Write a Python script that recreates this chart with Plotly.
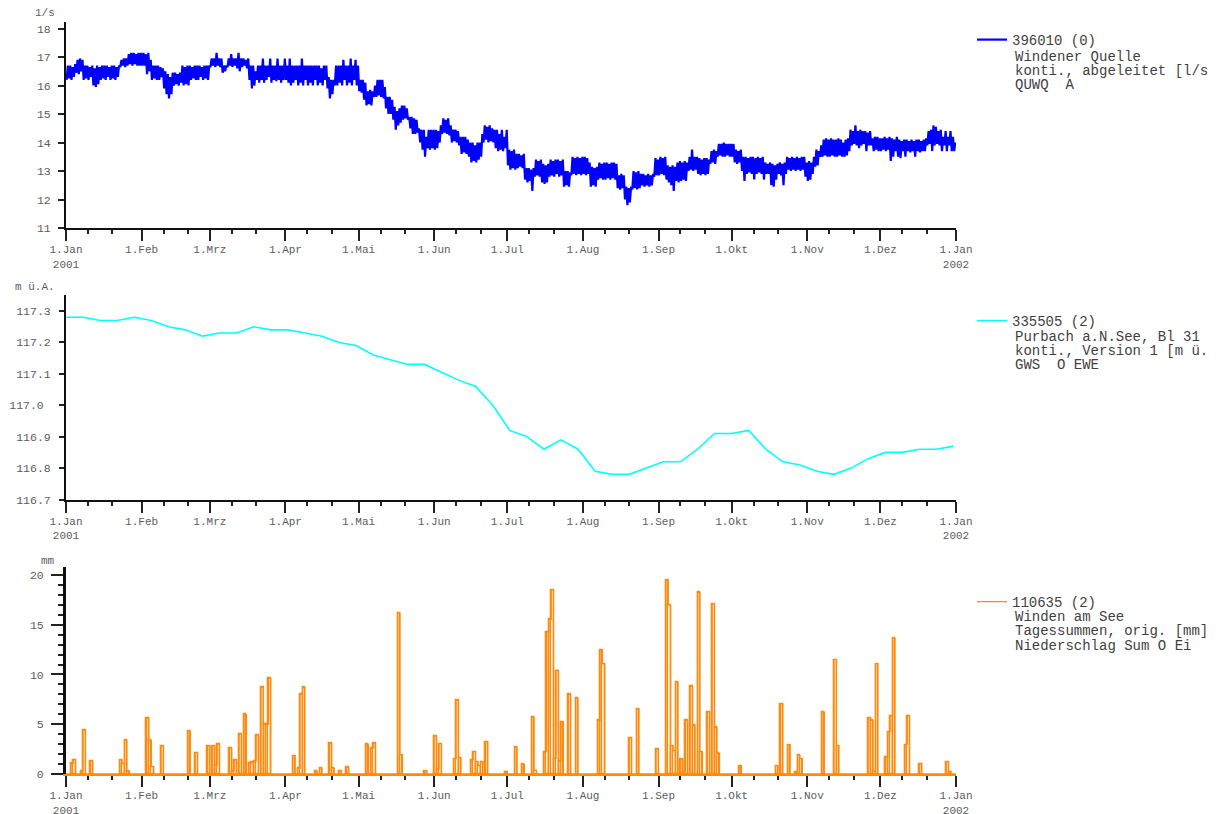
import numpy as np
import pandas as pd
import plotly.graph_objects as go

# ---------------- data: 396010 Windener Quelle (daily low / high, l/s) ----------------
flow_lo_jan = [16.2,16.25,16.2,16.3,16.45,16.4,16.5,16.2,16.25,16.2,16.3,16.0,15.95,16.05,16.2,16.25,16.2,16.3,16.2,16.25,16.2,16.3,16.65,16.7,16.65,16.7,16.75,16.7,16.75,16.7,16.7]
flow_hi_jan = [16.7,16.7,16.65,16.75,16.9,16.95,16.9,16.7,16.7,16.65,16.7,16.6,16.7,16.65,16.7,16.7,16.7,16.65,16.7,16.7,16.65,16.7,16.9,16.95,16.95,17.1,17.15,17.15,17.1,17.15,17.15]
flow_lo_feb = [16.7,16.7,16.4,16.5,16.2,16.25,16.2,16.2,16.3,15.9,15.7,15.55,15.7,16.0,16.05,16.0,16.1,16.0,16.05,16.0,16.2,16.25,16.2,16.2,16.3,16.2,16.25,16.2]
flow_hi_feb = [17.15,17.1,17.15,16.9,16.7,16.7,16.7,16.65,16.6,16.5,16.4,16.3,16.45,16.45,16.4,16.45,16.7,16.65,16.7,16.7,16.65,16.7,16.7,16.7,16.65,16.7,16.7,16.7]
flow_lo_mar = [16.65,16.7,16.65,16.7,16.65,16.45,16.5,16.65,16.7,16.65,16.7,16.6,16.5,16.65,16.7,16.6,16.2,15.9,16.0,16.2,16.1,16.2,16.1,16.2,16.3,16.1,16.2,16.15,16.2,16.1,16.2]
flow_hi_mar = [16.95,16.95,17.15,16.95,16.95,16.7,16.7,16.95,17.1,16.95,16.95,17.15,16.95,16.95,16.9,16.95,16.7,16.7,16.5,16.7,16.7,16.95,16.7,16.7,16.95,16.7,16.7,16.95,16.7,16.7,16.95]
flow_lo_apr = [16.2,16.1,16.0,16.1,16.2,16.0,16.1,16.0,16.2,16.0,16.1,16.0,16.2,16.0,16.1,16.0,16.2,15.9,15.55,15.7,16.0,16.0,16.1,16.0,16.2,16.0,16.1,16.0,16.2,16.0]
flow_hi_apr = [16.7,16.95,16.7,16.7,16.7,16.7,16.95,16.7,16.7,16.7,16.7,16.7,16.7,16.7,16.6,16.7,16.7,16.3,16.2,16.2,16.7,16.7,16.7,16.9,16.7,16.7,16.95,16.7,16.9,16.7]
flow_lo_may = [15.8,15.75,15.5,15.3,15.35,15.3,15.6,15.6,15.65,15.6,15.55,15.2,15.0,15.0,14.8,14.45,14.6,14.7,14.8,14.85,14.8,14.5,14.3,14.3,14.35,14.0,13.75,13.5,13.8,13.75,13.8]
flow_hi_may = [16.2,16.2,16.1,15.8,15.85,15.8,16.0,16.2,16.2,16.2,15.95,15.6,15.6,15.5,15.25,15.1,15.2,15.3,15.3,15.2,14.9,14.9,14.85,14.8,14.5,14.45,14.45,14.2,14.45,14.45,14.45]
flow_lo_jun = [13.75,13.8,14.0,14.3,14.35,14.3,14.25,14.0,14.05,14.0,13.9,13.6,13.65,13.6,13.5,13.3,13.35,13.3,13.4,13.5,14.0,14.1,14.0,14.05,14.0,13.8,13.7,13.75,13.7,13.8]
flow_hi_jun = [14.45,14.4,14.6,14.85,14.8,14.85,14.6,14.45,14.45,14.4,14.2,14.2,14.2,14.1,14.0,14.0,13.9,14.0,14.0,14.3,14.6,14.55,14.6,14.5,14.45,14.45,14.3,14.45,14.2,14.45]
flow_lo_jul = [13.2,13.05,13.1,13.05,13.1,13.15,13.1,12.7,12.6,12.65,12.3,12.8,12.85,12.8,12.6,12.55,12.6,12.8,12.85,12.8,12.9,12.8,12.85,12.45,12.5,12.45,12.85,12.9,12.85,12.9,12.85]
flow_hi_jul = [13.75,13.7,13.75,13.6,13.6,13.55,13.6,13.1,13.1,13.05,13.1,13.4,13.35,13.4,13.25,13.2,13.25,13.4,13.35,13.4,13.4,13.35,13.4,13.0,13.0,12.95,13.5,13.45,13.5,13.45,13.5]
flow_lo_aug = [12.9,12.85,12.9,12.45,12.5,12.45,12.7,12.75,12.7,12.7,12.75,12.7,12.75,12.7,12.4,12.35,12.4,12.0,11.8,11.9,12.35,12.4,12.35,12.4,12.5,12.45,12.5,12.45,12.5,12.8,12.85]
flow_hi_aug = [13.5,13.45,13.3,13.15,13.1,13.15,13.3,13.25,13.3,13.3,13.25,13.3,13.3,13.25,12.85,12.9,12.85,12.45,12.4,12.45,13.0,12.95,13.0,12.9,12.9,12.85,12.9,12.85,12.9,13.45,13.4]
flow_lo_sep = [12.85,12.9,12.85,12.7,12.6,12.5,12.3,12.65,12.6,12.65,12.7,12.65,13.0,13.05,13.0,13.05,12.9,12.85,12.9,12.85,12.9,13.25,13.3,13.25,13.5,13.55,13.5,13.5,13.55,13.5]
flow_hi_sep = [13.5,13.45,13.5,13.2,13.15,13.2,13.15,13.3,13.35,13.3,13.35,13.3,13.5,13.75,13.5,13.5,13.45,13.4,13.45,13.45,13.4,13.7,13.75,13.7,13.95,13.95,14.0,13.95,13.95,13.95]
flow_lo_oct = [13.5,13.3,13.25,13.3,13.0,12.65,12.9,12.95,12.9,12.7,12.9,12.95,12.9,12.7,12.9,12.9,12.5,12.45,12.7,12.9,12.85,12.5,12.9,13.05,13.0,13.05,13.0,13.05,13.0,13.05,12.8]
flow_hi_oct = [13.95,13.75,13.7,13.75,13.5,13.5,13.45,13.5,13.5,13.45,13.5,13.45,13.5,13.3,13.25,13.3,13.25,13.2,13.25,13.3,13.25,13.3,13.5,13.45,13.5,13.45,13.5,13.45,13.5,13.5,13.3]
flow_lo_nov = [12.65,12.7,12.9,13.15,13.2,13.5,13.5,13.55,13.5,13.5,13.55,13.5,13.5,13.55,13.5,13.5,13.55,13.7,13.9,13.95,13.9,13.8,13.9,13.95,13.7,13.9,13.9,13.7,13.75,13.7]
flow_hi_nov = [13.35,13.3,13.5,13.75,13.7,13.9,14.1,14.15,14.1,14.15,14.1,14.1,14.15,14.1,14.0,14.1,14.15,14.45,14.4,14.6,14.4,14.45,14.4,14.4,14.35,14.4,14.15,14.2,14.2,14.15]
flow_lo_dec = [13.7,13.75,13.7,13.75,13.35,13.5,13.7,13.5,13.45,13.7,13.5,13.7,13.65,13.7,13.5,13.7,13.65,13.7,13.7,13.9,13.95,13.7,13.9,13.95,13.9,13.7,13.9,13.7,13.9,13.7,13.7]
flow_hi_dec = [14.15,14.2,14.15,14.2,14.15,14.1,14.2,14.1,14.05,14.1,14.1,14.05,14.1,14.05,14.1,14.1,14.05,14.1,14.15,14.4,14.45,14.6,14.55,14.4,14.45,14.2,14.4,14.2,14.4,14.2,14.0]

# ---------------- data: 335505 Purbach a.N.See (weekly, m ü.A.) ----------------
level_start = "2001-01-01"
level_m = [117.28,117.28,117.27,117.27,117.28,117.27,117.25,117.24,117.22,117.23,117.23,117.25,117.24,117.24,
           117.23,117.22,117.20,117.19,117.16,117.145,117.13,117.13,117.105,117.08,117.06,117.00,116.92,116.90,
           116.86,116.89,116.86,116.79,116.78,116.78,116.80,116.82,116.82,116.86,116.91,116.91,116.92,116.86,
           116.82,116.81,116.79,116.78,116.80,116.83,116.85,116.85,116.86,116.86,116.87]

# ---------------- data: 110635 Winden am See (daily precipitation, mm) ----------------
rain_dates = ["2001-01-03","2001-01-04","2001-01-07","2001-01-08","2001-01-11","2001-01-23","2001-01-24","2001-01-25","2001-01-26",
              "2001-02-03","2001-02-04","2001-02-05","2001-02-09","2001-02-20","2001-02-23","2001-02-28",
              "2001-03-02","2001-03-03","2001-03-04","2001-03-09","2001-03-10","2001-03-11","2001-03-13","2001-03-15","2001-03-17",
              "2001-03-18","2001-03-19","2001-03-20","2001-03-22","2001-03-23","2001-03-24","2001-03-25",
              "2001-04-04","2001-04-06","2001-04-07","2001-04-08","2001-04-13","2001-04-15","2001-04-19","2001-04-20","2001-04-23","2001-04-26",
              "2001-05-04","2001-05-06","2001-05-07","2001-05-17","2001-05-18","2001-05-28",
              "2001-06-01","2001-06-02","2001-06-03","2001-06-09","2001-06-10","2001-06-11","2001-06-16","2001-06-17","2001-06-18",
              "2001-06-19","2001-06-20","2001-06-22","2001-06-30",
              "2001-07-04","2001-07-07","2001-07-11","2001-07-12","2001-07-16","2001-07-17","2001-07-18","2001-07-19","2001-07-20",
              "2001-07-21","2001-07-22","2001-07-23","2001-07-26","2001-07-29",
              "2001-08-07","2001-08-08","2001-08-09","2001-08-20","2001-08-23","2001-08-31",
              "2001-09-04","2001-09-05","2001-09-06","2001-09-07","2001-09-08","2001-09-10","2001-09-11","2001-09-12","2001-09-14",
              "2001-09-15","2001-09-17","2001-09-18","2001-09-21","2001-09-23","2001-09-24","2001-09-25",
              "2001-10-04","2001-10-19","2001-10-21","2001-10-24","2001-10-27","2001-10-28","2001-10-29",
              "2001-11-07","2001-11-12","2001-11-13","2001-11-26","2001-11-27","2001-11-28","2001-11-29",
              "2001-12-03","2001-12-04","2001-12-05","2001-12-06","2001-12-11","2001-12-12","2001-12-17","2001-12-28","2001-12-29"]
rain_mm = [1.1,1.45,0.3,4.4,1.3,1.45,1.05,3.4,0.3,
           5.6,3.4,0.75,2.85,4.3,2.15,2.85,
           2.85,0.9,3.0,2.6,0.3,1.4,4.0,6.0,1.1,
           1.2,1.3,3.9,8.7,5.0,5.0,9.6,
           1.85,0.6,8.0,8.7,0.3,0.6,3.1,0.6,0.3,0.7,
           3.0,2.6,3.1,16.2,1.95,0.3,
           3.8,0.5,3.05,1.55,7.4,1.65,1.4,2.25,1.25,
           0.85,1.25,3.25,0.25,
           2.7,1.0,5.7,0.35,2.25,14.25,15.55,18.5,1.55,
           10.4,1.3,5.25,8.0,7.6,
           5.4,12.5,11.1,3.65,6.55,2.5,
           19.5,17.0,2.85,2.35,9.25,1.5,0.2,5.4,8.8,
           4.9,18.25,2.25,6.25,17.1,4.7,2.1,
           0.85,0.85,7.05,2.95,0.2,1.9,1.55,
           6.25,11.5,2.85,5.65,5.4,0.25,11.1,
           1.7,4.25,5.85,13.65,2.95,5.85,1.05,1.25,0.25]

month_tick_text = ["1.Jan<br>2001","1.Feb","1.Mrz","1.Apr","1.Mai","1.Jun","1.Jul","1.Aug",
                   "1.Sep","1.Okt","1.Nov","1.Dez","1.Jan<br>2002"]

# ---------------- derived structures ----------------
flow_lo = (flow_lo_jan + flow_lo_feb + flow_lo_mar + flow_lo_apr + flow_lo_may + flow_lo_jun +
           flow_lo_jul + flow_lo_aug + flow_lo_sep + flow_lo_oct + flow_lo_nov + flow_lo_dec)
flow_hi = (flow_hi_jan + flow_hi_feb + flow_hi_mar + flow_hi_apr + flow_hi_may + flow_hi_jun +
           flow_hi_jul + flow_hi_aug + flow_hi_sep + flow_hi_oct + flow_hi_nov + flow_hi_dec)
days = pd.date_range("2001-01-01", periods=len(flow_lo), freq="D")
flow_x, flow_y = [], []
for d, lo, hi in zip(days, flow_lo, flow_hi):
    flow_x += [d + pd.Timedelta(hours=6), d + pd.Timedelta(hours=18)]
    flow_y += [lo, hi]

level_x = pd.date_range(level_start, periods=len(level_m), freq="7D")

rain_day = pd.to_datetime(rain_dates)
rain_series = pd.Series(0.0, index=pd.date_range("2001-01-01", "2002-01-01", freq="D"))
for d, v in zip(rain_day, rain_mm):
    rain_series[d] = v

month_ticks = pd.date_range("2001-01-01", "2002-01-01", freq="MS")
minor_ticks = [d + pd.Timedelta(days=k) for d in month_ticks[:-1] for k in (9, 19)]

# ---------------- figure ----------------
FONT = "Courier New, Liberation Mono, Cousine, monospace"
TICKFONT = dict(family=FONT, size=11.5, color="#5c5c5c")
XTICKFONT = dict(family=FONT, size=11, color="#5c5c5c")
LEGFONT = dict(family=FONT, size=14, color="#3f3f3f")
W, H = 1210, 806            # page body adds an 8px offset
L, R, T, B = 58, 262, 14, 40
ph = H - T - B

def py(p):   # reference-pixel y -> paper fraction
    return (774 - p) / ph

def px(p):   # reference-pixel x -> paper fraction
    return (p - 66) / (W - L - R)

fig = go.Figure()
fig.add_trace(go.Scatter(x=flow_x, y=flow_y, mode="lines", name="396010 (0)",
                         line=dict(color="#0000ff", width=2.2), xaxis="x", yaxis="y", legend="legend"))
fig.add_trace(go.Scatter(x=level_x, y=level_m, mode="lines", name="335505 (2)",
                         line=dict(color="#00ffff", width=1.6), xaxis="x2", yaxis="y2", legend="legend2"))
fig.add_trace(go.Bar(x=rain_day + pd.Timedelta(hours=12), y=rain_mm, width=86400000,
                     marker=dict(color="rgba(255,140,0,0.14)", line=dict(color="#ff8a10", width=1.3)),
                     showlegend=False, xaxis="x3", yaxis="y3"))
fig.add_trace(go.Scatter(x=rain_series.index, y=rain_series.values, mode="lines", name="110635 (2)",
                         line=dict(color="#ff8a10", width=1.3, shape="hv"), xaxis="x3", yaxis="y3",
                         legend="legend3"))

xcommon = dict(type="date", range=["2001-01-01", "2002-01-01"], tickmode="array",
               tickvals=month_ticks, ticktext=month_tick_text, ticks="outside", ticklen=11,
               tickwidth=1.5, tickcolor="#222", showline=True, linecolor="#111", linewidth=2,
               showgrid=False, zeroline=False, tickfont=XTICKFONT, automargin=False,
               ticklabelstandoff=-1,
               minor=dict(tickmode="array", tickvals=minor_ticks, ticks="outside", ticklen=4,
                          tickwidth=1.5, tickcolor="#222", showgrid=False))
ycommon = dict(ticks="outside", tickcolor="#222", tickwidth=1.5, showline=True, linecolor="#111",
               linewidth=2, showgrid=False, zeroline=False, tickfont=TICKFONT, ticklabelstandoff=5,
               automargin=False)

doms = [(py(228), 1.0), (py(499.5), py(295)), (0.0, py(567))]

fig.update_layout(
    width=W, height=H, margin=dict(l=L, r=R, t=T, b=B, autoexpand=False),
    paper_bgcolor="white", plot_bgcolor="white",
    xaxis=dict(xcommon, domain=[0, 1], anchor="y"),
    xaxis2=dict(xcommon, domain=[0, 1], anchor="y2"),
    xaxis3=dict(xcommon, domain=[0, 1], anchor="y3", linecolor="#ff8a10"),
    yaxis=dict(ycommon, domain=list(doms[0]), anchor="x", range=[11, 18.23], dtick=1, ticklen=6),
    yaxis2=dict(ycommon, domain=list(doms[1]), anchor="x2", range=[116.7, 117.351], tickmode="array",
                tickvals=[116.7, 116.8, 116.9, 117.0, 117.1, 117.2, 117.3],
                ticktext=["116.7", "116.8", "116.9", "117.0\u00a0", "117.1", "117.2", "117.3"], ticklen=5,
                ticklabelstandoff=6),
    yaxis4=dict(domain=list(doms[1]), anchor="x2", overlaying="y2", range=[116.7, 117.351],
                tickmode="array", tickvals=[117.0], ticks="outside", ticklen=12, tickwidth=1.5,
                tickcolor="#222", showticklabels=False, showline=False, showgrid=False, zeroline=False,
                automargin=False),
    yaxis3=dict(ycommon, domain=list(doms[2]), anchor="x3", range=[0, 20.8], dtick=5, ticklen=12,
                linewidth=3,
                minor=dict(dtick=1, ticks="outside", ticklen=5, tickwidth=1.5, tickcolor="#222", showgrid=False)),
    bargap=0,
    legend=dict(x=px(972), y=py(24), xanchor="left", yanchor="top", font=LEGFONT,
                bgcolor="rgba(0,0,0,0)", itemwidth=30),
    legend2=dict(x=px(972), y=py(305), xanchor="left", yanchor="top", font=LEGFONT,
                 bgcolor="rgba(0,0,0,0)", itemwidth=30),
    legend3=dict(x=px(972), y=py(586), xanchor="left", yanchor="top", font=LEGFONT,
                 bgcolor="rgba(0,0,0,0)", itemwidth=30),
    showlegend=True,
)

# legend detail lines
legend_lines = [
    (["Windener Quelle", "konti., abgeleitet [l/s", "QUWQ\u00a0\u00a0A"], [57, 71, 85]),
    (["Purbach a.N.See, Bl 31", "konti., Version 1 [m ü.", "GWS\u00a0\u00a0O EWE"], [337, 351, 365]),
    (["Winden am See", "Tagessummen, orig. [mm]", "Niederschlag Sum O Ei"], [617, 631, 646]),
]
for texts, ys in legend_lines:
    for t, yy in zip(texts, ys):
        fig.add_annotation(text=t, xref="paper", yref="paper", x=px(1013), y=py(yy),
                           xanchor="left", yanchor="middle", showarrow=False, font=LEGFONT)

# unit labels
for unit, yref, shift in [("1/s", "y domain", 9), ("m ü.A.", "y2 domain", 8), ("mm", "y3 domain", 6)]:
    fig.add_annotation(text=unit, xref="paper", yref=yref, x=px(57), y=1, xanchor="right",
                       yanchor="middle", yshift=shift, showarrow=False,
                       font=dict(family=FONT, size=11, color="#5c5c5c"))

fig.write_html("out.html")
